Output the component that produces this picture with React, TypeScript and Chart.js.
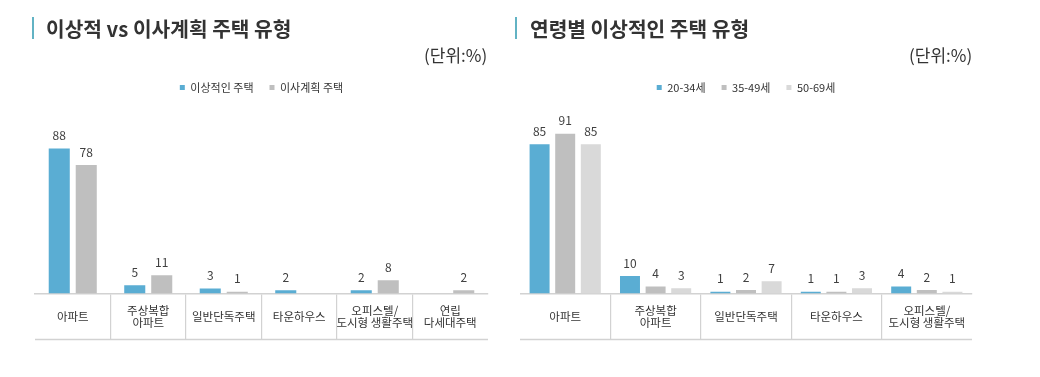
import React, { useEffect, useRef } from 'react';
import { Chart, registerables } from 'chart.js';

Chart.register(...registerables);

const FONT = '"Noto Sans CJK KR", "Noto Sans", sans-serif';

// ---- Data: left chart ----
const leftCategories: (string | string[])[] = [
  '아파트',
  ['주상복합', '아파트'],
  '일반단독주택',
  '타운하우스',
  ['오피스텔/', '도시형 생활주택'],
  ['연립', '다세대주택'],
];
const leftSeriesNames = ['이상적인 주택', '이사계획 주택'];
const idealHousing = [88, 5, 3, 2, 2, 0];
const plannedHousing = [78, 11, 1, 0, 8, 2];

// ---- Data: right chart ----
const rightCategories: (string | string[])[] = [
  '아파트',
  ['주상복합', '아파트'],
  '일반단독주택',
  '타운하우스',
  ['오피스텔/', '도시형 생활주택'],
];
const ageSeriesNames = ['20-34세', '35-49세', '50-69세'];
const age20to34 = [85, 10, 1, 1, 4];
const age35to49 = [91, 4, 2, 1, 2];
const age50to69 = [85, 3, 7, 3, 1];

const BLUE = '#5AADD3';
const GRAY = '#BFBFBF';
const LIGHT = '#D9D9D9';
const LINE = '#D2D2D2';
const TICK_LEN = 46;
const TICK_PAD = -29.3;
const AXIS_SPACER = 31; // invisible axis title height so labels are not clipped
const LABEL_LH = 11.5 * 1.1;

const valueLabels = {
  id: 'valueLabels',
  afterDatasetsDraw(chart: any) {
    const ctx = chart.ctx;
    ctx.save();
    ctx.font = `12px ${FONT}`;
    ctx.fillStyle = '#404040';
    ctx.textAlign = 'center';
    ctx.textBaseline = 'middle';
    chart.data.datasets.forEach((ds: any, i: number) => {
      const meta = chart.getDatasetMeta(i);
      meta.data.forEach((bar: any, j: number) => {
        const v = ds.data[j];
        if (v > 0) ctx.fillText(String(v), bar.x, bar.y - 13);
      });
    });
    ctx.restore();
  },
};

const bottomLine = {
  id: 'bottomLine',
  afterDraw(chart: any) {
    const xs = chart.scales.x;
    const ctx = chart.ctx;
    const y = xs.top + TICK_LEN;
    ctx.save();
    ctx.strokeStyle = LINE;
    ctx.lineWidth = 1.5;
    ctx.beginPath();
    ctx.moveTo(chart.chartArea.left, y);
    ctx.lineTo(chart.chartArea.right, y);
    ctx.stroke();
    ctx.restore();
  },
};

function makeConfig(
  labels: (string | string[])[],
  datasets: { label: string; data: number[]; color: string }[],
  cp: number,
  bp: number,
  yMax: number,
  padding: { left: number; right: number; top: number; bottom: number }
): any {
  return {
    type: 'bar',
    data: {
      labels,
      datasets: datasets.map((d) => ({
        label: d.label,
        data: d.data,
        backgroundColor: d.color,
        borderWidth: 0,
        categoryPercentage: cp,
        barPercentage: bp,
      })),
    },
    options: {
      animation: false,
      responsive: false,
      maintainAspectRatio: false,
      layout: { padding },
      plugins: {
        legend: {
          position: 'top',
          labels: {
            boxWidth: 5,
            boxHeight: 5,
            padding: 16,
            color: '#333333',
            font: { family: FONT, size: 11 },
          },
        },
        tooltip: { enabled: false },
        title: { display: false },
      },
      scales: {
        x: {
          grid: {
            offset: true,
            drawOnChartArea: false,
            drawTicks: true,
            tickLength: TICK_LEN,
            lineWidth: 1.2,
            color: (ctx: any) =>
              ctx.type !== 'tick' || ctx.index === 0 ? 'rgba(0,0,0,0)' : LINE,
          },
          border: { display: true, color: LINE, width: 1.5 },
          title: {
            display: true,
            text: '',
            font: { size: 1, lineHeight: 1 },
            padding: { top: AXIS_SPACER - 1, bottom: 0 },
          },
          ticks: {
            color: '#333333',
            font: { family: FONT, size: 11.5, lineHeight: 1.1 },
            padding: TICK_PAD,
            crossAlign: 'center',
            autoSkip: false,
            maxRotation: 0,
          },
        },
        y: { display: false, min: 0, max: yMax },
      },
    },
    plugins: [valueLabels, bottomLine],
  };
}

function BarCanvas({ config, width, height, left }: any) {
  const ref = useRef<HTMLCanvasElement | null>(null);
  useEffect(() => {
    if (!ref.current) return;
    const chart = new Chart(ref.current, config);
    return () => chart.destroy();
  }, [config]);
  return (
    <canvas
      ref={ref}
      width={width}
      height={height}
      style={{ position: 'absolute', left, top: 0, width, height }}
    />
  );
}

const AXIS_HEIGHT = TICK_LEN + AXIS_SPACER + 2 * LABEL_LH + 2 * TICK_PAD;
const BOTTOM_PAD = 377 - 293.5 - AXIS_HEIGHT;

const leftConfig = makeConfig(
  leftCategories,
  [
    { label: leftSeriesNames[0], data: idealHousing, color: BLUE },
    { label: leftSeriesNames[1], data: plannedHousing, color: GRAY },
  ],
  0.715,
  0.78,
  115.6,
  { left: 35, right: 32, top: 66, bottom: BOTTOM_PAD }
);

const rightConfig = makeConfig(
  rightCategories,
  [
    { label: ageSeriesNames[0], data: age20to34, color: BLUE },
    { label: ageSeriesNames[1], data: age35to49, color: GRAY },
    { label: ageSeriesNames[2], data: age50to69, color: LIGHT },
  ],
  0.85,
  0.78,
  108.5,
  { left: 0, right: 68, top: 66, bottom: BOTTOM_PAD }
);

const titleStyle: React.CSSProperties = {
  position: 'absolute',
  top: 14,
  fontFamily: FONT,
  fontWeight: 700,
  fontSize: 20.3,
  lineHeight: '28px',
  color: '#333333',
  whiteSpace: 'nowrap',
};
const accentStyle: React.CSSProperties = {
  position: 'absolute',
  top: 17,
  width: 2,
  height: 22,
  background: '#62B3C4',
};
const unitStyle: React.CSSProperties = {
  position: 'absolute',
  top: 43,
  fontFamily: FONT,
  fontSize: 17,
  lineHeight: '24px',
  color: '#333333',
  whiteSpace: 'nowrap',
};

export default function App() {
  return (
    <div
      style={{
        position: 'absolute',
        left: 0,
        top: 0,
        width: 1040,
        height: 377,
        background: '#ffffff',
        overflow: 'hidden',
      }}
    >
      <BarCanvas config={leftConfig} width={520} height={377} left={0} />
      <BarCanvas config={rightConfig} width={520} height={377} left={520} />
      <div style={{ ...accentStyle, left: 32 }} />
      <div style={{ ...titleStyle, left: 46 }}>이상적 vs 이사계획 주택 유형</div>
      <div style={{ ...unitStyle, left: 424 }}>(단위:%)</div>
      <div style={{ ...accentStyle, left: 515 }} />
      <div style={{ ...titleStyle, left: 530 }}>연령별 이상적인 주택 유형</div>
      <div style={{ ...unitStyle, left: 909 }}>(단위:%)</div>
    </div>
  );
}
